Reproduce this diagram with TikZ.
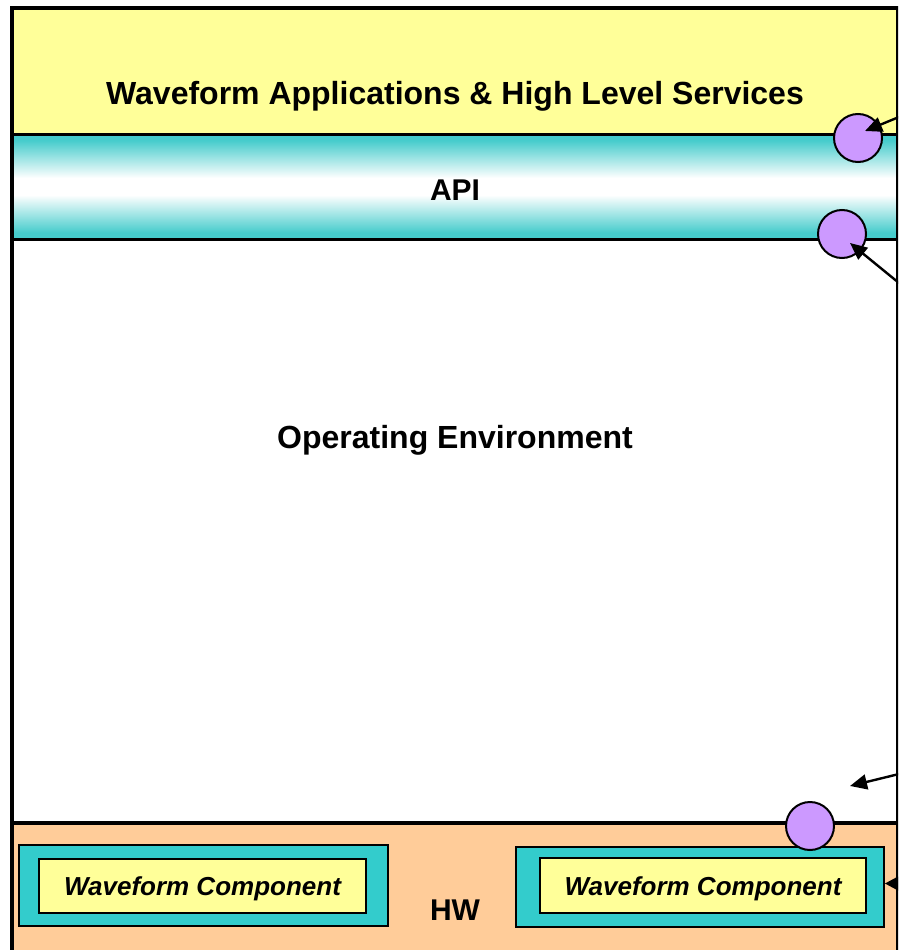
\documentclass[tikz,border=0pt]{standalone}
\usepackage{fontspec}
\setmainfont{Liberation Sans}
\usetikzlibrary{arrows.meta}
\definecolor{bandyellow}{RGB}{255,255,153}
\definecolor{apiteal}{RGB}{70,204,204}
\definecolor{compteal}{RGB}{51,204,204}
\definecolor{hworange}{RGB}{255,204,153}
\definecolor{portpurple}{RGB}{204,153,255}
\pgfdeclareverticalshading{apishade}{100bp}{color(0bp)=(apiteal); color(25bp)=(apiteal); color(28bp)=(apiteal); color(46bp)=(white); color(54bp)=(white); color(72bp)=(apiteal); color(75bp)=(apiteal); color(100bp)=(apiteal)}
\tikzset{
  bigtext/.style={font=\bfseries\fontsize{32}{38}\selectfont, inner sep=0pt},
  midtext/.style={font=\bfseries\fontsize{30}{36}\selectfont, inner sep=0pt},
  comptext/.style={font=\bfseries\itshape\fontsize{26}{31}\selectfont, inner sep=0pt},
  outerbox/.style={draw=black, line width=2pt, fill=compteal, rectangle, inner sep=0pt},
  innerbox/.style={draw=black, line width=2pt, fill=bandyellow, rectangle, inner sep=0pt},
  port/.style={circle, draw=black, line width=2pt, fill=portpurple, minimum size=48pt, inner sep=0pt},
  arrowline/.style={line width=2.4pt, -{Triangle[length=17pt,width=15pt]}},
  sepline/.style={line width=3.5pt}
}
\begin{document}
\begin{tikzpicture}[x=1pt,y=-1pt]
\useasboundingbox (0,0) rectangle (898,950);
\clip (0,0) rectangle (898,950);
% bands
\fill[bandyellow] (12,9) rectangle (897,134);
\shade[shading=apishade] (12,134) rectangle (897,239);
\fill[white] (12,239) rectangle (897,823);
\fill[hworange] (12,823) rectangle (897,960);
% frame and separators
\draw[sepline] (12,970) -- (12,8) -- (897.5,8) -- (897.5,970);
\draw[line width=3pt] (12,134) -- (897,134);
\draw[line width=3pt] (12,239) -- (897,239);
\draw[sepline] (12,823) -- (897,823);
% band labels
\node[bigtext] (apps) at (455,96) {Waveform Applications \& High Level Services};
\node[midtext] (api) at (455,190) {API};
\node[bigtext] (oe) at (455,440) {Operating Environment};
\node[midtext] (hw) at (455,910) {HW};
% waveform components
\node[outerbox, minimum width=369pt, minimum height=81pt] (wc1o) at (203.5,885.5) {};
\node[innerbox, minimum width=327pt, minimum height=54pt] (wc1i) at (202.5,886) {};
\node[comptext] (wc1t) at ([yshift=-3pt]wc1i.center) {Waveform Component};
\node[outerbox, minimum width=368pt, minimum height=80pt] (wc2o) at (700,887) {};
\node[innerbox, minimum width=326pt, minimum height=55pt] (wc2i) at (703,885.5) {};
\node[comptext] (wc2t) at ([yshift=-3pt]wc2i.center) {Waveform Component};
% ports
\node[port] (p1) at (858,138) {};
\node[port] (p2) at (842,234) {};
\node[port] (p3) at (810,826) {};
% arrow ends
\coordinate (s1) at (899,117);
\coordinate (t1) at (865,131);
\coordinate (s2) at (899,283);
\coordinate (t2) at (850,243);
\coordinate (s3) at (899,774);
\coordinate (t3) at (850,786);
\coordinate (s4) at (898,883.5);
\draw[arrowline] (s1) -- (t1);
\draw[arrowline] (s2) -- (t2);
\draw[arrowline] (s3) -- (t3);
\fill[black] (s4 -| wc2o.east) -- ([yshift=-7pt]s4) -- ([yshift=7pt]s4) -- cycle;
\end{tikzpicture}
\end{document}
